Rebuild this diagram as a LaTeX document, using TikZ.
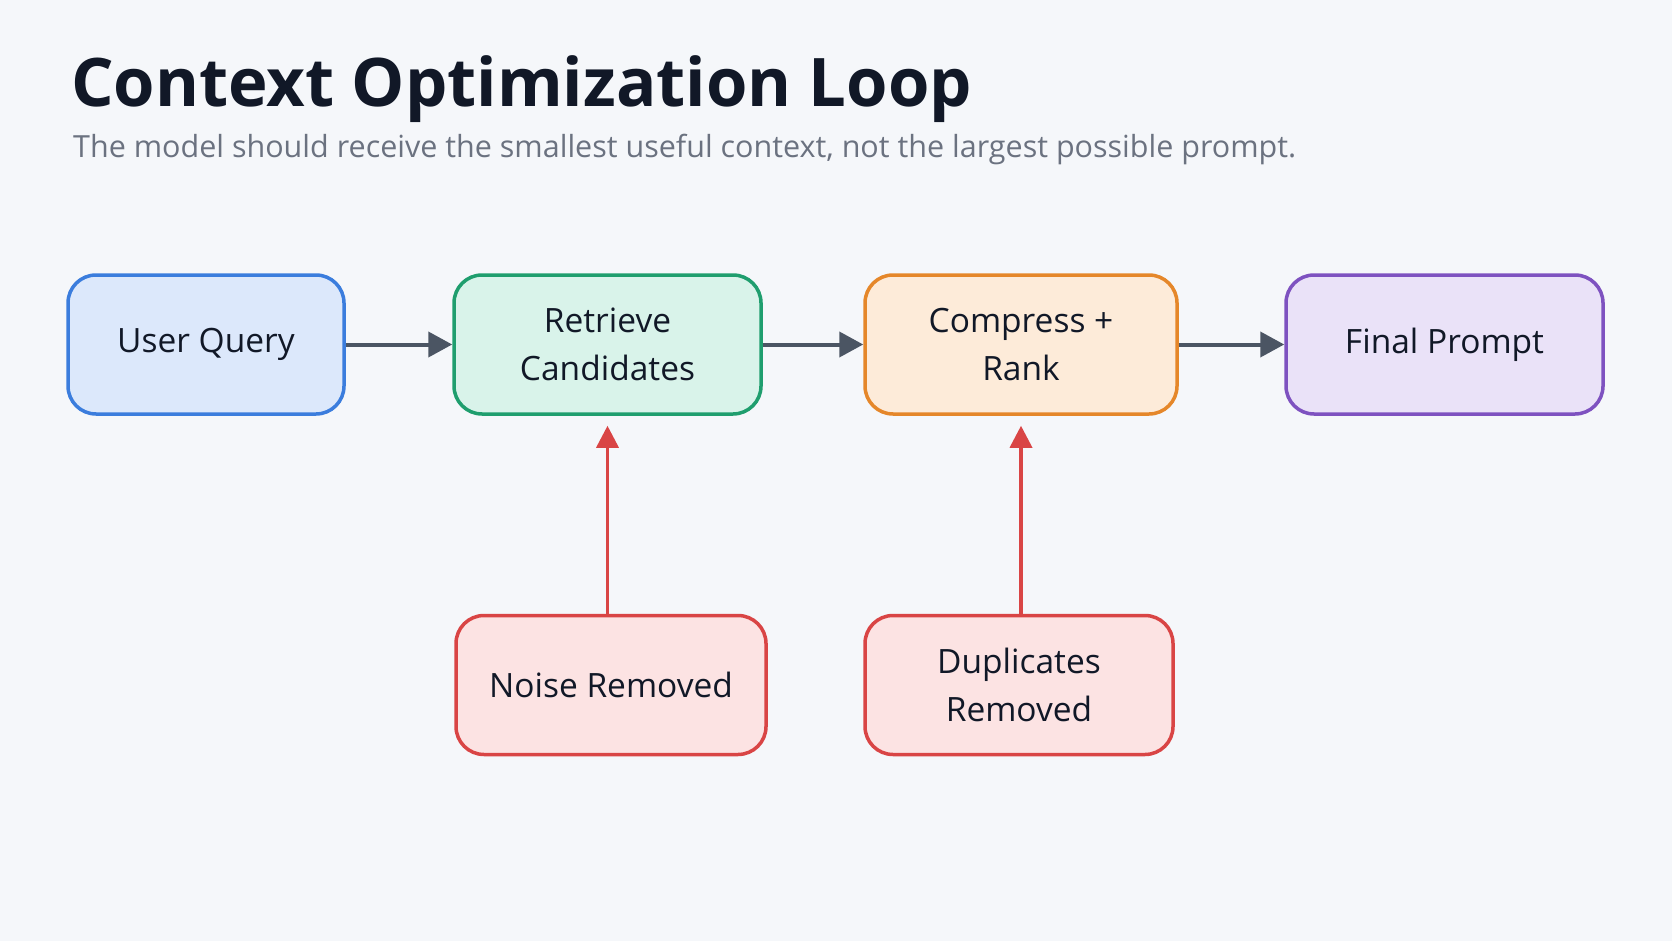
\documentclass[tikz,border=0pt]{standalone}
\usepackage{fontspec}
\setmainfont{Open Sans}
\usepackage{tikz}
\usetikzlibrary{arrows.meta, positioning, calc}
\definecolor{bgpage}{HTML}{F5F7FA}
\definecolor{ink}{HTML}{111827}
\definecolor{subink}{HTML}{6B7280}
\definecolor{arrgray}{HTML}{4B5563}
\definecolor{qblue}{HTML}{3B7DDD}
\definecolor{qbluefill}{HTML}{DCE8FB}
\definecolor{rgreen}{HTML}{1F9E6E}
\definecolor{rgreenfill}{HTML}{D9F3EA}
\definecolor{corange}{HTML}{E5872A}
\definecolor{corangefill}{HTML}{FDEBD9}
\definecolor{fpurple}{HTML}{7E52C0}
\definecolor{fpurplefill}{HTML}{EAE2F8}
\definecolor{nred}{HTML}{D94545}
\definecolor{nredfill}{HTML}{FCE3E3}

\begin{document}
\begin{tikzpicture}[
  x=1pt, y=-1pt,
  box/.style={draw, rounded corners=28pt, line width=3.5pt, minimum height=139pt, align=center, text=ink, font=\fontsize{33.5}{48}\selectfont},
  arr/.style={-{Triangle[length=24pt,width=25pt]}, line width=4pt, color=arrgray},
  rarr/.style={-{Triangle[length=22pt,width=22pt]}, line width=3.5pt, color=nred, shorten >=10pt},
  title/.style={anchor=base west, inner sep=0pt, text=ink, font=\fontsize{67}{80}\selectfont\bfseries},
  subtitle/.style={anchor=base west, inner sep=0pt, text=subink, font=\fontsize{30.5}{40}\selectfont}
]

% --- Page ---
\fill[bgpage] (0,0) rectangle (1672,941);

% --- Heading ---
\node[title] (head) at (71,107) {Context Optimization Loop};
\node[subtitle] (sub) at (73,158) {The model should receive the smallest useful context, not the largest possible prompt.};

% --- Main pipeline ---
\node[box, draw=qblue, fill=qbluefill, minimum width=276pt] (query) at (206,344.5) {User Query};
\node[box, draw=rgreen, fill=rgreenfill, minimum width=307pt] (retrieve) at (607.5,344.5) {Retrieve\\Candidates};
\node[box, draw=corange, fill=corangefill, minimum width=312pt] (compress) at (1021,344.5) {Compress +\\Rank};
\node[box, draw=fpurple, fill=fpurplefill, minimum width=317pt] (final) at (1444.5,344.5) {Final Prompt};

% --- Filters ---
\node[box, draw=nred, fill=nredfill, minimum width=310pt] (noise) at (611,685) {Noise Removed};
\node[box, draw=nred, fill=nredfill, minimum width=308pt] (dupes) at (1019,685) {Duplicates\\Removed};

% --- Flow ---
\draw[arr] (query.east) -- (retrieve.west);
\draw[arr] (retrieve.east) -- (compress.west);
\draw[arr] (compress.east) -- (final.west);

% --- Filter feedback ---
\draw[rarr] (noise.north -| retrieve.south) -- (retrieve.south);
\draw[rarr] (dupes.north -| compress.south) -- (compress.south);

\end{tikzpicture}
\end{document}
